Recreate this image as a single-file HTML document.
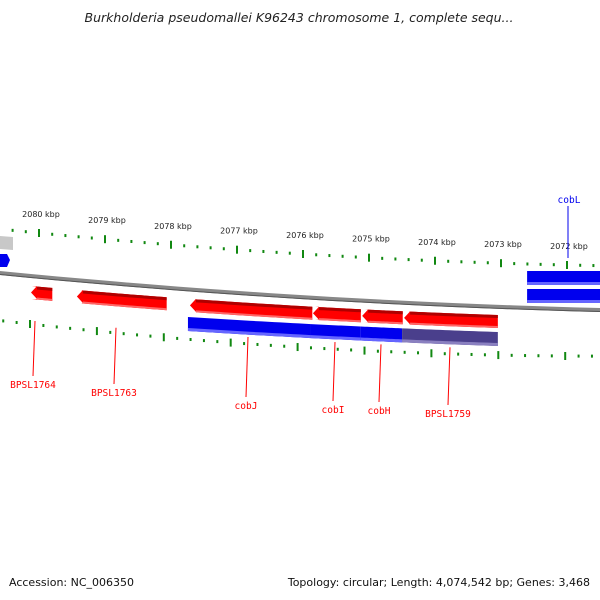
<!DOCTYPE html>
<html><head><meta charset="utf-8"><style>
html,body{margin:0;padding:0;background:#fff;}
svg{display:block;}
</style></head><body>
<svg id="map" width="600" height="600" viewBox="0 0 600 600" xmlns="http://www.w3.org/2000/svg">
<text x="299" y="22" text-anchor="middle" font-family="DejaVu Sans, sans-serif" font-style="italic" font-size="12.5" fill="#222">Burkholderia pseudomallei K96243 chromosome 1, complete sequ...</text>
<text x="9" y="586" font-family="DejaVu Sans, sans-serif" font-size="11" fill="#111">Accession: NC_006350</text>
<text x="590" y="586" text-anchor="end" font-family="DejaVu Sans, sans-serif" font-size="11" fill="#111">Topology: circular; Length: 4,074,542 bp; Genes: 3,468</text>
<g id="layer"></g>
</svg>
<script>
// data
const tickKbp = [2080, 2079, 2078, 2077, 2076, 2075, 2074, 2073, 2072];
const tickLabels = ["2080 kbp","2079 kbp","2078 kbp","2077 kbp","2076 kbp","2075 kbp","2074 kbp","2073 kbp","2072 kbp"];
const redNames = ["BPSL1764","BPSL1763","cobJ","cobI","cobH","BPSL1759"];
const redStarts = [2080.06, 2079.37, 2077.67, 2075.82, 2075.08, 2074.45];
const redEnds = [2079.74, 2078.02, 2075.83, 2075.10, 2074.47, 2073.04];
const redLabelX = [33, 114, 246, 333, 379, 448];
const redLabelY = [388, 396, 409, 413, 414, 417];
const blueStarts = [2077.70, 2075.85, 2075.10, 2074.48];
const blueEnds = [2075.85, 2075.10, 2074.48, 2073.04];
const blueColors = ["#0000ee","#0000ee","#0000ee","#4a3f8c"];

const NS = "http://www.w3.org/2000/svg";
const layer = document.getElementById('layer');
function quad(x0,y0,x1,y1,x2,y2){return x=>y0*(x-x1)*(x-x2)/((x0-x1)*(x0-x2))+y1*(x-x0)*(x-x2)/((x1-x0)*(x1-x2))+y2*(x-x0)*(x-x1)/((x2-x0)*(x2-x1));}
const backbone = quad(0,273,300,297,600,310);
const topTick = quad(39,233,303,254,567,265);
const botTick = quad(30,324,297,347,565,356);
const redTrack = quad(31,286,300,306,498,315);
const blueTrack = quad(188,317,350,326,498,332);
const xTop = k => 39 + (2080 - k) * 66;
const xBot = k => 30 + (2080 - k) * 66.9;
const xGene = k => 35 + (2080 - k) * 66.5;
function mk(tag, attrs){const e=document.createElementNS(NS,tag);for(const a in attrs)e.setAttribute(a,attrs[a]);layer.appendChild(e);return e;}
function curvePts(f,x0,x1,off){let p=[];for(let x=x0;x<=x1+0.01;x+=(x1-x0)/20)p.push([x,f(x)+off]);return p;}
function band(f,x0,x1,o0,o1,fill,name,arrowLeft,arrowRight){
  let top=curvePts(f,x0,x1,o0), bot=curvePts(f,x0,x1,o1).reverse();
  let pts=top.concat(bot);
  if(arrowLeft){const ym=f(x0)+(o0+o1)/2;pts[0][0]+=6;pts[pts.length-1][0]+=6;pts.push([x0,ym]);}
  if(arrowRight){const ym=f(x1)+(o0+o1)/2;top[top.length-1][0]-=6;bot[0][0]-=6;pts=top.concat([[x1,ym]]).concat(bot);}
  const e=mk('polygon',{points:pts.map(p=>p.join(',')).join(' '),fill:fill});
  
  
  return e;
}
// backbone
let bb=mk('polyline',{points:curvePts(backbone,-5,605,0).map(p=>p.join(',')).join(' '),fill:'none',stroke:'#888',"stroke-width":4});


let bb2=mk('polyline',{points:curvePts(backbone,-5,605,1.5).map(p=>p.join(',')).join(' '),fill:'none',stroke:'#555',"stroke-width":1});


// ticks
function drawTicks(f,xf,name){
  for(let k=2081;k>=2071;k-=0.2){
    const kk=Math.round(k*10)/10, x=xf(kk);
    if(x<0||x>600)continue;
    const major=Math.abs(kk-Math.round(kk))<0.01;
    const y=f(x);
    const t=mk('rect',{x:x-1,y:major?y-4:y-1.5,width:2,height:major?8:3,fill:'#118811'});
    
    
  }
}
drawTicks(topTick,xTop,'top');
drawTicks(botTick,xBot,'bottom');
tickKbp.forEach((k,i)=>{
  const x=xTop(k);
  const t=mk('text',{x:x+2,y:topTick(x)-16,"text-anchor":"middle","font-family":"DejaVu Sans, sans-serif","font-size":8,fill:'#222'});
  t.textContent=tickLabels[i];
  
  
});
// top-left partial features
const g1=mk('polygon',{points:'0,236 13,237 13,250 0,249',fill:'#c8c8c8'});


const b0=mk('polygon',{points:'0,254 7,254 10,260 7,267 0,267',fill:'#0000ee'});


// red genes
redStarts.forEach((s,i)=>{
  const x0=xGene(s), x1=xGene(redEnds[i]);
  band(redTrack,x0,x1,0,13,'#ff0000','gene-'+redNames[i],true,false);
  band(redTrack,x0+6,x1,0,3,'#b00000','gene-'+redNames[i]+'-shade',false,false);
  band(redTrack,x0+6,x1,11,13,'#ff6666','gene-'+redNames[i]+'-highlight',false,false);
  const xm=(x0+x1)/2;
  const ln=mk('line',{x1:redLabelX[i]+2,y1:redTrack(xm)+34,x2:redLabelX[i],y2:redLabelY[i]-12,stroke:'#ff0000',"stroke-width":1});
  
  
  const t=mk('text',{x:redLabelX[i],y:redLabelY[i],"text-anchor":"middle","font-family":"DejaVu Sans Mono, monospace","font-size":9.5,fill:'#ff0000'});
  t.textContent=redNames[i];
  
  
});
// blue genes (lower)
blueStarts.forEach((s,i)=>{
  const x0=xGene(s), x1=xGene(blueEnds[i]);
  band(blueTrack,x0,x1,0,14,blueColors[i],'blue-gene-'+i,false,false);
  band(blueTrack,x0,x1,11,14,i==3?'#8a80c0':'#6666ff','blue-gene-highlight-'+i,false,false);
});
// top-right blue genes
const xr0=xGene(2072.60);
[271,289].forEach((y,i)=>{
  const r=mk('rect',{x:xr0,y:y,width:600-xr0,height:14,fill:'#0000ee'});
  
  
  const h=mk('rect',{x:xr0,y:y+11,width:600-xr0,height:3,fill:'#6666ff'});
  
  
});
const cl=mk('line',{x1:568,y1:206,x2:568,y2:258,stroke:'#0000ee',"stroke-width":1});


const ct=mk('text',{x:569,y:203,"text-anchor":"middle","font-family":"DejaVu Sans Mono, monospace","font-size":9.5,fill:'#0000ee'});
ct.textContent='cobL';


</script>
</body></html>
